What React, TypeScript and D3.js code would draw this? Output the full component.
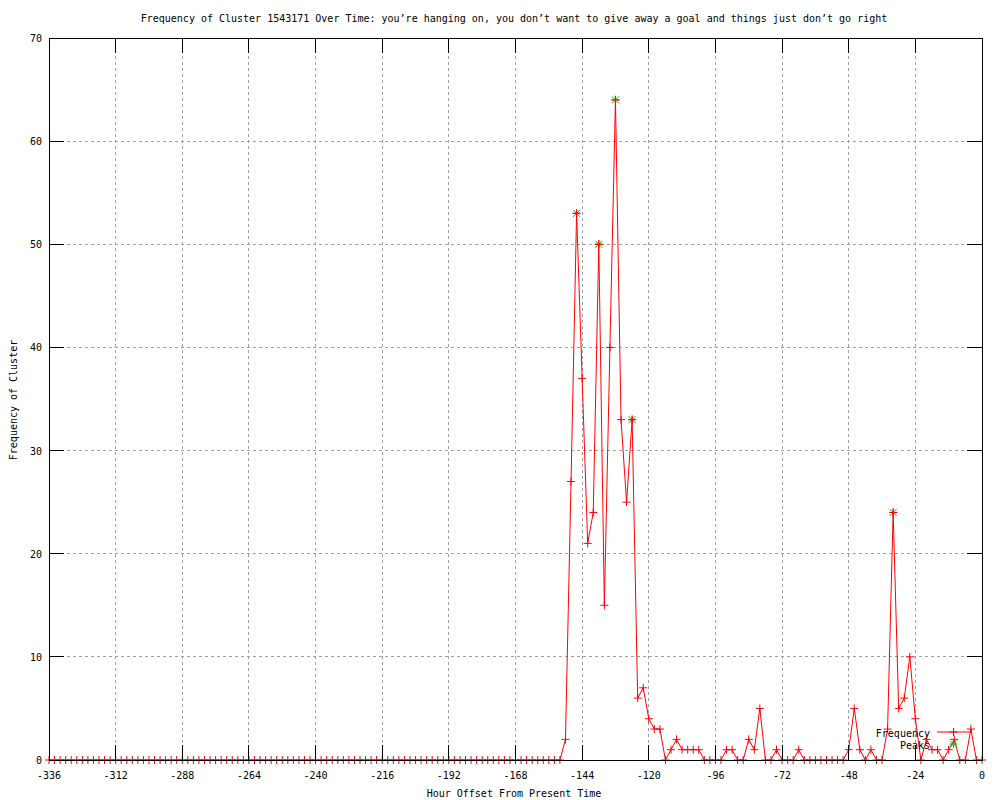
import React from "react";
import * as d3 from "d3";

// hourly buckets (every 2 hours) from two weeks back up to now
const hours = d3.range(-336, 1, 2);

// frequency per bucket, -336 .. 0
const frequency = [
  0, 0, 0, 0, 0, 0, 0, 0, 0, 0, 0, 0, // -336 .. -314
  0, 0, 0, 0, 0, 0, 0, 0, 0, 0, 0, 0, // -312 .. -290
  0, 0, 0, 0, 0, 0, 0, 0, 0, 0, 0, 0, // -288 .. -266
  0, 0, 0, 0, 0, 0, 0, 0, 0, 0, 0, 0, // -264 .. -242
  0, 0, 0, 0, 0, 0, 0, 0, 0, 0, 0, 0, // -240 .. -218
  0, 0, 0, 0, 0, 0, 0, 0, 0, 0, 0, 0, // -216 .. -194
  0, 0, 0, 0, 0, 0, 0, 0, 0, 0, 0, 0, // -192 .. -170
  0, 0, 0, 0, 0, 0, 0, 0, 0, 2, 27, 53, // -168 .. -146
  37, 21, 24, 50, 15, 40, 64, 33, 25, 33, 6, 7, // -144 .. -122
  4, 3, 3, 0, 1, 2, 1, 1, 1, 1, 0, 0, // -120 .. -98
  0, 0, 1, 1, 0, 0, 2, 1, 5, 0, 0, 1, // -96 .. -74
  0, 0, 0, 1, 0, 0, 0, 0, 0, 0, 0, 0, // -72 .. -50
  1, 5, 1, 0, 1, 0, 0, 3, 24, 5, 6, 10, // -48 .. -26
  4, 0, 2, 1, 1, 0, 1, 2, 0, 0, 3, 0, // -24 .. -2
  0, // 0
];

const peakHours = [-146, -138, -132, -126, -32];
const peakValues = [53, 50, 64, 33, 24];

const xTickValues = [-336, -312, -288, -264, -240, -216, -192, -168, -144, -120, -96, -72, -48, -24, 0];
const yTickValues = [0, 10, 20, 30, 40, 50, 60, 70];

const title =
  "Frequency of Cluster 1543171 Over Time: you\u2019re hanging on, you don\u2019t want to give away a goal and things just don\u2019t go right";

const W = 1000;
const H = 800;
const left = 49;
const right = 982;
const top = 38;
const bottom = 760;
const tickLen = 15;
const font = "'DejaVu Sans Mono', 'Liberation Mono', monospace";
const red = "#ff0000";
const green = "#00c000";

function Plus({ cx, cy, color }: { cx: number; cy: number; color: string }) {
  const s = 4;
  return (
    <g stroke={color} strokeWidth={1}>
      <line x1={cx - s} x2={cx + s} y1={cy} y2={cy} />
      <line x1={cx} x2={cx} y1={cy - s} y2={cy + s} />
    </g>
  );
}

function Cross({ cx, cy, color }: { cx: number; cy: number; color: string }) {
  const s = 3.5;
  return (
    <g stroke={color} strokeWidth={1}>
      <line x1={cx - s} x2={cx + s} y1={cy - s} y2={cy + s} />
      <line x1={cx - s} x2={cx + s} y1={cy + s} y2={cy - s} />
    </g>
  );
}

export default function App() {
  const x = d3.scaleLinear().domain([-336, 0]).range([left, right]);
  const y = d3.scaleLinear().domain([0, 70]).range([bottom, top]);

  const pts: [number, number][] = hours.map((h, i) => [h, frequency[i]]);
  const line = d3
    .line<[number, number]>()
    .x((d) => x(d[0]))
    .y((d) => y(d[1]));

  const legX1 = 937;
  const legX2 = 970;
  const legMid = (legX1 + legX2) / 2;

  return (
    <div style={{ position: "absolute", left: 0, top: 0 }}>
      <svg width={W} height={H} style={{ display: "block", background: "#fff" }} fontFamily={font} fontSize={10}>
        <rect width={W} height={H} fill="#fff" />

        {/* grid */}
        <g stroke="#a0a0a0" strokeDasharray="3,3" shapeRendering="crispEdges">
          {xTickValues
            .filter((t) => t !== -336 && t !== 0)
            .map((t) => (
              <line key={"gx" + t} x1={x(t)} x2={x(t)} y1={top} y2={bottom} />
            ))}
          {yTickValues
            .filter((t) => t !== 0 && t !== 70)
            .map((t) => (
              <line key={"gy" + t} x1={left} x2={right} y1={y(t)} y2={y(t)} />
            ))}
        </g>

        {/* frequency line + points */}
        <path d={line(pts) || ""} fill="none" stroke={red} strokeWidth={1} />
        {pts.map((d, i) => (
          <Plus key={"p" + i} cx={x(d[0])} cy={y(d[1])} color={red} />
        ))}

        {/* peaks */}
        {peakHours.map((h, i) => (
          <g key={"pk" + i}>
            <Cross cx={x(h)} cy={y(peakValues[i])} color={green} />
            <Plus cx={x(h)} cy={y(peakValues[i])} color={red} />
          </g>
        ))}

        {/* border and ticks */}
        <g stroke="#000" strokeWidth={1} shapeRendering="crispEdges" fill="none">
          <rect x={left} y={top} width={right - left} height={bottom - top} />
          {xTickValues.map((t) => (
            <g key={"tx" + t}>
              <line x1={x(t)} x2={x(t)} y1={bottom} y2={bottom - tickLen} />
              <line x1={x(t)} x2={x(t)} y1={top} y2={top + tickLen} />
            </g>
          ))}
          {yTickValues.map((t) => (
            <g key={"ty" + t}>
              <line x1={left} x2={left + tickLen} y1={y(t)} y2={y(t)} />
              <line x1={right} x2={right - tickLen} y1={y(t)} y2={y(t)} />
            </g>
          ))}
        </g>

        {/* tick labels */}
        {xTickValues.map((t) => (
          <text key={"lx" + t} x={x(t)} y={779} textAnchor="middle" fill="#000">
            {t === 0 ? "0" : "-" + Math.abs(t)}
          </text>
        ))}
        {yTickValues.map((t) => (
          <text key={"ly" + t} x={42} y={y(t) + 4} textAnchor="end" fill="#000">
            {t}
          </text>
        ))}

        {/* titles */}
        <text x={514} y={22} textAnchor="middle" fill="#000">
          {title}
        </text>
        <text x={514} y={797} textAnchor="middle" fill="#000">
          Hour Offset From Present Time
        </text>
        <text transform="translate(17,400) rotate(-90)" textAnchor="middle" fill="#000">
          Frequency of Cluster
        </text>

        {/* legend */}
        <text x={930} y={737} textAnchor="end" fill="#000">
          Frequency
        </text>
        <line x1={legX1} x2={legX2} y1={732} y2={732} stroke={red} strokeWidth={1} />
        <Plus cx={legMid} cy={732} color={red} />
        <text x={930} y={749} textAnchor="end" fill="#000">
          Peaks
        </text>
        <Cross cx={legMid} cy={744} color={green} />
        <Plus cx={legMid} cy={744} color={green} />
      </svg>
    </div>
  );
}
